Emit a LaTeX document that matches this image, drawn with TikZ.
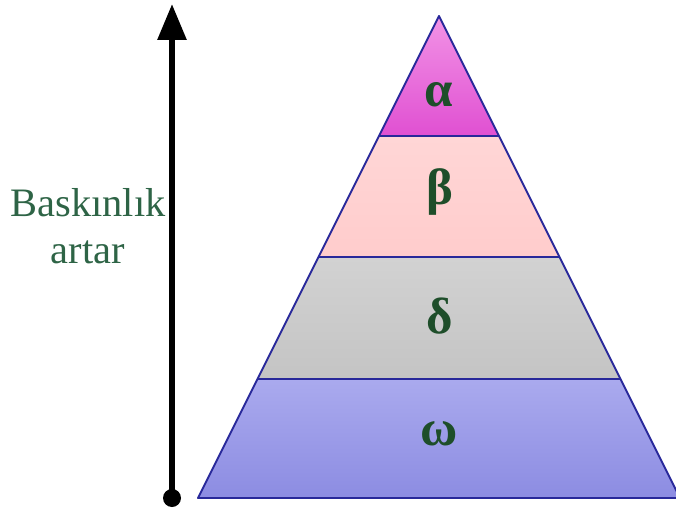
\documentclass[tikz,border=0pt]{standalone}
\usepackage{fontspec}
\setmainfont{Liberation Serif}
\usepackage{xcolor}
\definecolor{pyredge}{RGB}{40,40,154}
\definecolor{pyrtext}{RGB}{30,78,42}
\definecolor{sidetext}{RGB}{46,100,70}
\definecolor{alphatop}{RGB}{242,147,230}
\definecolor{alphabot}{RGB}{224,80,210}
\definecolor{betatop}{RGB}{255,214,214}
\definecolor{betabot}{RGB}{255,204,204}
\definecolor{deltatop}{RGB}{210,210,210}
\definecolor{deltabot}{RGB}{196,196,196}
\definecolor{omegatop}{RGB}{170,170,238}
\definecolor{omegabot}{RGB}{140,140,226}
\usetikzlibrary{arrows.meta, calc}

\tikzset{
  layer/.style={draw=pyredge, line width=1.1pt, line join=round},
  greek/.style={font=\fontsize{29}{32}\selectfont\bfseries, text=pyrtext},
  sidelabel/.style={font=\fontsize{23}{27}\selectfont, text=sidetext, align=center}
}

\begin{document}
\begin{tikzpicture}[x=0.02cm, y=-0.02cm]
  \useasboundingbox (0,0) rectangle (676,510);

  % Pyramid corners and layer borders
  \coordinate (apex) at (439,16);
  \coordinate (a1) at (379,136);   \coordinate (a2) at (499,136);
  \coordinate (b1) at (318.5,257); \coordinate (b2) at (559.5,257);
  \coordinate (d1) at (257.5,379); \coordinate (d2) at (620.5,379);
  \coordinate (w1) at (198,498);   \coordinate (w2) at (680,498);

  % --- Layers ---
  \shade[top color=alphatop, bottom color=alphabot] (apex) -- (a2) -- (a1) -- cycle;
  \shade[top color=betatop,  bottom color=betabot]  (a1) -- (a2) -- (b2) -- (b1) -- cycle;
  \shade[top color=deltatop, bottom color=deltabot] (b1) -- (b2) -- (d2) -- (d1) -- cycle;
  \shade[top color=omegatop, bottom color=omegabot] (d1) -- (d2) -- (w2) -- (w1) -- cycle;
  \draw[layer] (apex) -- (w2) -- (w1) -- cycle;
  \draw[layer] (a1) -- (a2);
  \draw[layer] (b1) -- (b2);
  \draw[layer] (d1) -- (d2);

  % Layer labels
  \node[greek] (alpha) at (439,95)  {α};
  \node[greek] (beta)  at (440,192) {β};
  \node[greek] (delta) at (440,316) {δ};
  \node[greek] (omega) at (439,434) {ω};

  % --- Dominance arrow ---
  \coordinate (arrbot) at (172,498);
  \coordinate (arrtop) at (172,4);
  \fill (arrbot) circle (9);
  \draw[line width=3.4pt, -{Triangle[width=0.56cm, length=0.72cm]}] (arrbot) -- (arrtop);
  \node[sidelabel] (dominance) at (88,226) {Baskınlık\\artar};
\end{tikzpicture}
\end{document}
